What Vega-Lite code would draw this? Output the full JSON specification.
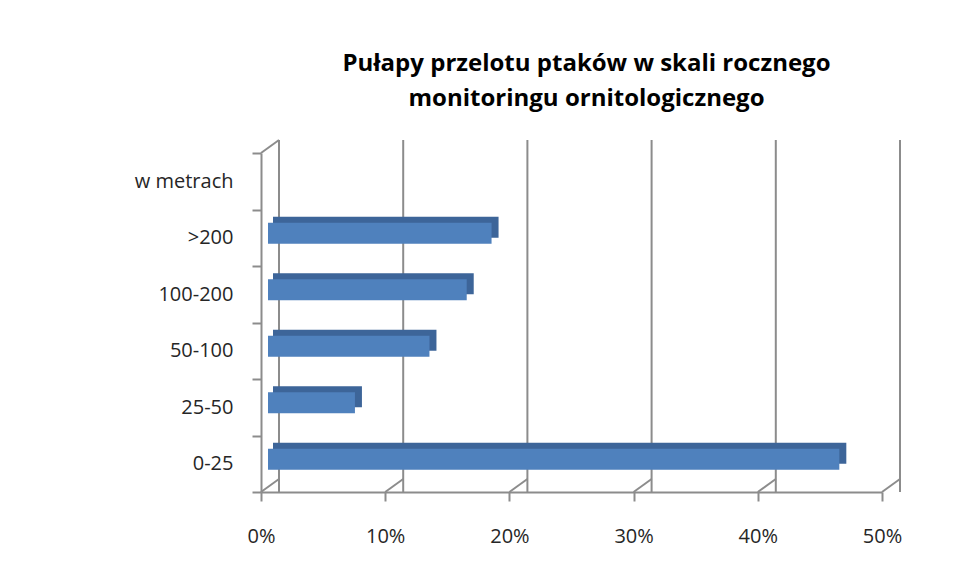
{
  "$schema": "https://vega.github.io/schema/vega-lite/v6.json",
  "width": 621,
  "height": 339,
  "autosize": {"type": "none"},
  "padding": {"left": 261, "top": 153, "right": 80, "bottom": 87},
  "background": "white",
  "config": {"view": {"stroke": null}, "font": "Open Sans"},
  "title": {
    "text": ["Pułapy przelotu ptaków w skali rocznego", "monitoringu ornitologicznego"],
    "font": "Open Sans",
    "fontSize": 24,
    "fontWeight": "bold",
    "color": "#000000",
    "lineHeight": 35,
    "dx": 15,
    "offset": 28,
    "frame": "group",
    "anchor": "middle"
  },
  "datasets": {
    "bars": [
      {"kategoria": "w metrach", "udzial": null},
      {"kategoria": ">200", "udzial": 0.18},
      {"kategoria": "100-200", "udzial": 0.16},
      {"kategoria": "50-100", "udzial": 0.13},
      {"kategoria": "25-50", "udzial": 0.07},
      {"kategoria": "0-25", "udzial": 0.46}
    ],
    "ticks": [{"v": 0}, {"v": 0.1}, {"v": 0.2}, {"v": 0.3}, {"v": 0.4}, {"v": 0.5}]
  },
  "layer": [
    {
      "data": {"name": "ticks"},
      "mark": {"type": "rule", "xOffset": 18, "yOffset": -13, "y2Offset": -13, "color": "#8c8c8c", "strokeWidth": 2},
      "encoding": {
        "x": {"field": "v", "type": "quantitative"}
      }
    },
    {
      "data": {"name": "ticks"},
      "mark": {"type": "rule", "x2Offset": 18, "y2Offset": -13, "color": "#8c8c8c", "strokeWidth": 2},
      "encoding": {
        "x": {"field": "v", "type": "quantitative"},
        "x2": {"field": "v"},
        "y": {"datum": "0-25", "type": "nominal", "bandPosition": 1},
        "y2": {"datum": "0-25", "bandPosition": 1}
      }
    },
    {
      "data": {"values": [{"v": 0}]},
      "mark": {"type": "rule", "x2Offset": 18, "y2Offset": -13, "color": "#8c8c8c", "strokeWidth": 2},
      "encoding": {
        "x": {"field": "v", "type": "quantitative"},
        "x2": {"field": "v"},
        "y": {"datum": "w metrach", "type": "nominal", "bandPosition": 0},
        "y2": {"datum": "w metrach", "bandPosition": 0}
      }
    },
    {
      "data": {"name": "bars"},
      "mark": {"type": "bar", "size": 21, "xOffset": 14, "x2Offset": 12, "yOffset": -10.5, "y2Offset": -10.5, "color": "#3d6599"},
      "encoding": {
        "y": {"field": "kategoria", "type": "nominal"},
        "x": {"field": "udzial", "type": "quantitative", "stack": null},
        "x2": {"datum": 0}
      }
    },
    {
      "data": {"name": "bars"},
      "mark": {"type": "bar", "size": 21, "xOffset": 7, "x2Offset": 7, "yOffset": -4.5, "y2Offset": -4.5, "color": "#4f81bd"},
      "encoding": {
        "y": {
          "field": "kategoria",
          "type": "nominal",
          "sort": null,
          "scale": {"domain": ["w metrach", ">200", "100-200", "50-100", "25-50", "0-25"], "paddingInner": 0, "paddingOuter": 0},
          "axis": {
            "title": null,
            "tickBand": "extent",
            "grid": false,
            "domainColor": "#8c8c8c",
            "domainWidth": 2,
            "tickColor": "#8c8c8c",
            "tickWidth": 2,
            "tickSize": 9,
            "labelPadding": 19,
            "labelFont": "Open Sans",
            "labelFontSize": 20,
            "labelColor": "#262626"
          }
        },
        "x": {
          "field": "udzial",
          "type": "quantitative",
          "stack": null,
          "scale": {"domain": [0, 0.5], "nice": false},
          "axis": {
            "title": null,
            "values": [0, 0.1, 0.2, 0.3, 0.4, 0.5],
            "format": ".0%",
            "grid": false,
            "labelFlush": false,
            "domainColor": "#8c8c8c",
            "domainWidth": 2,
            "tickColor": "#8c8c8c",
            "tickWidth": 2,
            "tickSize": 9,
            "labelPadding": 25,
            "labelFont": "Open Sans",
            "labelFontSize": 20,
            "labelColor": "#262626"
          }
        },
        "x2": {"datum": 0}
      }
    }
  ]
}
